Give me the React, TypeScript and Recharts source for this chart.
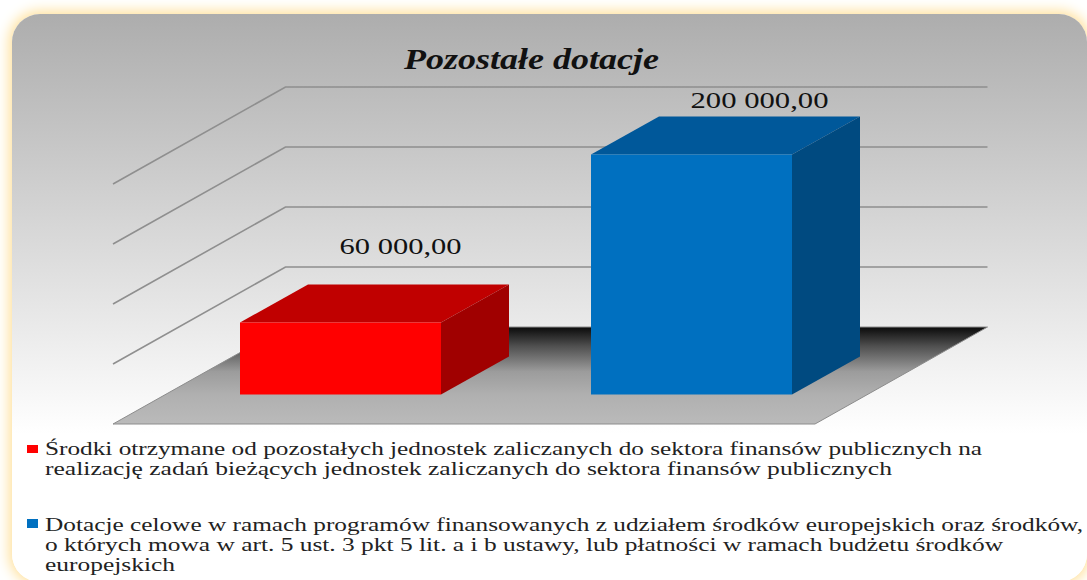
import { Bar, BarChart, CartesianGrid, LabelList, Legend, XAxis, YAxis } from 'recharts';

const categories = ['Środki otrzymane', 'Dotacje celowe'];
const values = [60000, 200000];
const valueLabels = ['60 000,00', '200 000,00'];
const yTicks = [0, 50000, 100000, 150000, 200000];
const legendLines = [
  [
    'Środki otrzymane od pozostałych jednostek zaliczanych do sektora finansów publicznych na',
    'realizację zadań bieżących jednostek zaliczanych do sektora finansów publicznych',
  ],
  [
    'Dotacje celowe w ramach programów finansowanych z udziałem środków europejskich oraz środków,',
    'o których mowa w art. 5 ust. 3 pkt 5 lit. a i b ustawy, lub płatności w ramach budżetu środków',
    'europejskich',
  ],
];

const data = categories.map((name, i) => ({ name, value: values[i], label: valueLabels[i] }));

const palette = [
  { front: '#ff0000', top: '#c00000', side: '#a00000' },
  { front: '#0070c0', top: '#00589a', side: '#004a80' },
];

// fake 3d: the wall sits this far behind the axis plane, bars stand part way in
const WALL_DX = 172.5;
const WALL_DY = -97;
const BAR_DX = 52;
const BAR_DY = -29.5;
const DEPTH_DX = 68;
const DEPTH_DY = -38;
const FLOOR_Y = 424;
const SERIF = '"Liberation Serif", serif';

const gridLine = (props: any) => {
  const { x1, x2, y1, key } = props;
  if (Math.abs(y1 - FLOOR_Y) < 1) {
    const pts = `${x1},${y1} ${x2},${y1} ${x2 + WALL_DX},${y1 + WALL_DY} ${x1 + WALL_DX},${y1 + WALL_DY}`;
    return <polygon key={key} points={pts} fill="url(#floorFill)" stroke="#8c8c8c" strokeWidth={1} />;
  }
  const pts = `${x1},${y1} ${x1 + WALL_DX},${y1 + WALL_DY} ${x2 + WALL_DX},${y1 + WALL_DY}`;
  return <polyline key={key} points={pts} fill="none" stroke="#8f8f8f" strokeWidth={1.6} />;
};

const Box3d = (props: any) => {
  const { x, y, width, height, index } = props;
  const c = palette[index];
  const l = x + BAR_DX;
  const r = l + width;
  const t = y + BAR_DY;
  const b = t + height;
  return (
    <g>
      <polygon
        points={`${l},${t} ${l + DEPTH_DX},${t + DEPTH_DY} ${r + DEPTH_DX},${t + DEPTH_DY} ${r},${t}`}
        fill={c.top}
      />
      <polygon
        points={`${r},${t} ${r + DEPTH_DX},${t + DEPTH_DY} ${r + DEPTH_DX},${b + DEPTH_DY} ${r},${b}`}
        fill={c.side}
      />
      <rect x={l} y={t} width={width} height={height} fill={c.front} />
    </g>
  );
};

// labels were placed by hand in the original, so each one has its own lift
const labelShift = [
  { dx: 60, dy: -69 },
  { dx: 68, dy: -47 },
];

const ValueLabel = (props: any) => {
  const { x, y, width, index, value } = props;
  const s = labelShift[index];
  const cx = x + BAR_DX + width / 2 + s.dx;
  const w = index === 0 ? 122 : 138;
  return (
    <text
      x={cx - w / 2}
      y={y + BAR_DY + s.dy}
      textLength={w}
      lengthAdjust="spacingAndGlyphs"
      fontFamily={SERIF}
      fontSize={24}
      fill="#111"
    >
      {value}
    </text>
  );
};

const lineBoxes = [
  [
    { w: 937, base: 25 },
    { w: 847, base: 45 },
  ],
  [
    { w: 1038, base: 101 },
    { w: 958, base: 121 },
    { w: 130, base: 141 },
  ],
];
const swatches = [
  { y: 15, h: 8 },
  { y: 89, h: 9 },
];

const LegendBlock = () => (
  <svg width={1087} height={150} style={{ display: 'block' }}>
    {legendLines.map((lines, i) => (
      <g key={i}>
        <rect x={27} y={swatches[i].y} width={11} height={swatches[i].h} fill={palette[i].front} />
        {lines.map((line, j) => (
          <text
            key={j}
            x={45}
            y={lineBoxes[i][j].base}
            textLength={lineBoxes[i][j].w}
            lengthAdjust="spacingAndGlyphs"
            fontFamily={SERIF}
            fontSize={18}
            fill="#222"
          >
            {line}
          </text>
        ))}
      </g>
    ))}
  </svg>
);

export default function App() {
  return (
    <div
      style={{
        position: 'absolute',
        left: 0,
        top: 0,
        width: 1087,
        height: 580,
        overflow: 'hidden',
        background: '#fff',
      }}
    >
      <div
        style={{
          position: 'absolute',
          left: 12,
          top: 14,
          width: 1075,
          height: 568,
          borderRadius: 28,
          background: 'linear-gradient(180deg, #adadad 0%, #ffffff 74%)',
          boxShadow: '0 0 13px 3px #ffe09a',
        }}
      />
      <BarChart
        width={1087}
        height={580}
        data={data}
        margin={{ top: 184, right: 272, bottom: 156, left: 113 }}
        barSize={201}
        style={{ position: 'absolute', left: 0, top: 0 }}
      >
        <defs>
          <linearGradient id="floorFill" x1="0" y1="0" x2="0" y2="1">
            <stop offset="0%" stopColor="#0a0a0a" />
            <stop offset="20%" stopColor="#505050" />
            <stop offset="46%" stopColor="#9c9c9c" />
            <stop offset="70%" stopColor="#b0b0b0" />
            <stop offset="100%" stopColor="#bababa" />
          </linearGradient>
        </defs>
        <CartesianGrid vertical={false} horizontal={gridLine} />
        <XAxis dataKey="name" hide />
        <YAxis hide domain={[0, 200000]} ticks={yTicks} />
        <Legend
          layout="vertical"
          align="center"
          verticalAlign="middle"
          content={LegendBlock}
          wrapperStyle={{ left: 0, top: 430, width: 1087, height: 150 }}
        />
        <Bar dataKey="value" shape={Box3d} isAnimationActive={false}>
          <LabelList dataKey="label" content={ValueLabel} />
        </Bar>
        <text
          x={404}
          y={69}
          textLength={255}
          lengthAdjust="spacingAndGlyphs"
          fontFamily={SERIF}
          fontSize={30}
          fontWeight="bold"
          fontStyle="italic"
          fill="#111"
        >
          Pozostałe dotacje
        </text>
      </BarChart>
    </div>
  );
}
